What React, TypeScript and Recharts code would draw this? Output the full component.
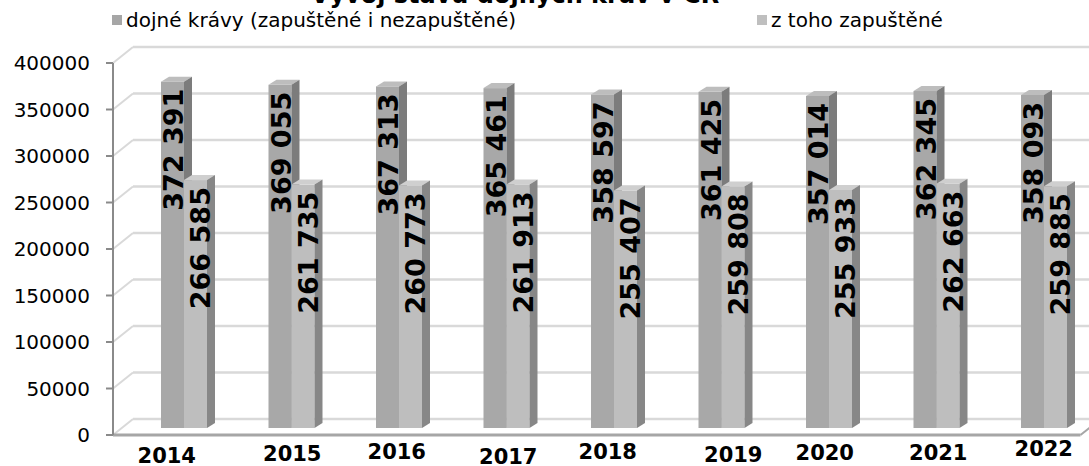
import React from "react";
import {
  Bar,
  BarChart,
  CartesianGrid,
  Customized,
  LabelList,
  Legend,
  XAxis,
  YAxis,
} from "recharts";

const years = ["2014", "2015", "2016", "2017", "2018", "2019", "2020", "2021", "2022"];
const dojneKravy = [372391, 369055, 367313, 365461, 358597, 361425, 357014, 362345, 358093];
const zapustene = [266585, 261735, 260773, 261913, 255407, 259808, 255933, 262663, 259885];
const yTicks = [0, 50000, 100000, 150000, 200000, 250000, 300000, 350000, 400000];

const seriesNames = ["dojné krávy (zapuštěné i nezapuštěné)", "z toho zapuštěné"];

// nepravidelné posuny popisků let, jak jsou v originále
const tickNudgeX = [0, 18, 15, 19, 11, 29, 13, 19, 17];
const tickNudgeY = [0, -2, -4, 1, -4, -1, -3, -3, -7];

const data = years.map((rok, i) => ({ rok, a: dojneKravy[i], b: zapustene[i] }));

const W = 1089;
const H = 466;
const WALL_DX = 20;
const WALL_DY = 16;
const BAR_DX = 17;
const BAR_DY = 7;
const DEPTH_X = 8;
const DEPTH_Y = 5;
const FONT = "'DejaVu Sans', Verdana, sans-serif";

const fmt = (v: number) => String(v).replace(/\B(?=(\d{3})+(?!\d))/g, " ");

function makeBox(front: string, top: string, side: string) {
  return (props: any) => {
    const { x, y, width, height } = props;
    const sx = x + BAR_DX;
    const sy = y - BAR_DY;
    const w = width;
    const h = height;
    return (
      <g>
        <rect x={sx} y={sy} width={w} height={h} fill={front} />
        <polygon
          points={`${sx},${sy} ${sx + w},${sy} ${sx + w + DEPTH_X},${sy - DEPTH_Y} ${sx + DEPTH_X},${sy - DEPTH_Y}`}
          fill={top}
        />
        <polygon
          points={`${sx + w},${sy} ${sx + w + DEPTH_X},${sy - DEPTH_Y} ${sx + w + DEPTH_X},${sy + h - DEPTH_Y} ${sx + w},${sy + h}`}
          fill={side}
        />
      </g>
    );
  };
}

function makeLabel(dx: number) {
  return (props: any) => {
    const { x, y, width, value } = props;
    const cx = x + BAR_DX + width / 2 + dx;
    const top = y - BAR_DY + 7;
    return (
      <text
        x={cx}
        y={top}
        dy={9.8}
        transform={`rotate(-90 ${cx} ${top})`}
        textAnchor="end"
        fontFamily={FONT}
        fontWeight="bold"
        fontSize={27}
        fill="#000"
      >
        {fmt(value)}
      </text>
    );
  };
}

const gridLine = (props: any) => {
  const { x1, y1, x2, index } = props;
  const by = y1 - WALL_DY;
  const stroke = "#d9d9d9";
  return (
    <g key={`grid-${index}`}>
      <line x1={x1} y1={y1} x2={x1 + WALL_DX} y2={by} stroke={stroke} strokeWidth={2} />
      <line x1={x1 + WALL_DX} y1={by} x2={x2 + WALL_DX} y2={by} stroke={stroke} strokeWidth={2.5} />
      {y1 > 430 && (
        <line x1={x2} y1={y1} x2={x2 + WALL_DX} y2={by} stroke="#a6a6a6" strokeWidth={2} />
      )}
    </g>
  );
};

const YearTick = (props: any) => {
  const { x, y, payload, index } = props;
  const cy = y + 12 + tickNudgeY[index];
  return (
    <text
      x={x + tickNudgeX[index]}
      y={cy + 7.7}
      textAnchor="middle"
      fontFamily={FONT}
      fontWeight="bold"
      fontSize={21}
      fill="#000"
    >
      {payload.value}
    </text>
  );
};

const LegendBox = () => (
  <div style={{ position: "relative", width: W, height: 30, fontFamily: FONT, fontSize: 20, color: "#000" }}>
    {[
      { left: 112, color: "#a6a6a6" },
      { left: 757, color: "#bfbfbf" },
    ].map((it, i) => (
      <div key={i} style={{ position: "absolute", left: it.left, top: 0, display: "flex", alignItems: "center", whiteSpace: "nowrap", lineHeight: "24px" }}>
        <span style={{ display: "inline-block", width: 10, height: 10, background: it.color, marginRight: 4 }} />
        <span>{seriesNames[i]}</span>
      </div>
    ))}
  </div>
);

const Title = () => (
  <text x={515} y={3} textAnchor="middle" fontFamily={FONT} fontWeight="bold" fontSize={24} fill="#000">
    Vývoj stavu dojných krav v ČR
  </text>
);

export default function App() {
  return (
    <div style={{ position: "absolute", left: 0, top: 0, width: W, height: H, background: "#fff" }}>
      <BarChart
        width={W}
        height={H}
        data={data}
        margin={{ top: 63, right: 8.5, bottom: 0, left: 0 }}
        barGap={0}
        barSize={23}
      >
        <CartesianGrid vertical={false} horizontal={gridLine} />
        <XAxis
          dataKey="rok"
          height={31}
          axisLine={{ stroke: "#a6a6a6", strokeWidth: 3 }}
          tickLine={false}
          tick={<YearTick />}
          interval={0}
        />
        <YAxis
          width={113}
          domain={[0, 400000]}
          ticks={yTicks}
          interval={0}
          axisLine={{ stroke: "#8a8a8a", strokeWidth: 2 }}
          tickLine={{ stroke: "#8a8a8a", strokeWidth: 2 }}
          tickSize={7}
          tickMargin={16}
          tick={{ fontFamily: FONT, fontSize: 20, fill: "#000" }}
        />
        <Legend
          layout="horizontal"
          verticalAlign="middle"
          align="center"
          wrapperStyle={{ top: 8, left: 0, width: W }}
          content={<LegendBox />}
        />
        <Bar dataKey="a" name={seriesNames[0]} shape={makeBox("#a8a8a8", "#bdbdbd", "#7c7c7c")} isAnimationActive={false}>
          <LabelList dataKey="a" content={makeLabel(1)} />
        </Bar>
        <Bar dataKey="b" name={seriesNames[1]} shape={makeBox("#bebebe", "#cfcfcf", "#878787")} isAnimationActive={false}>
          <LabelList dataKey="b" content={makeLabel(5)} />
        </Bar>
        <Customized component={<Title />} />
      </BarChart>
    </div>
  );
}
